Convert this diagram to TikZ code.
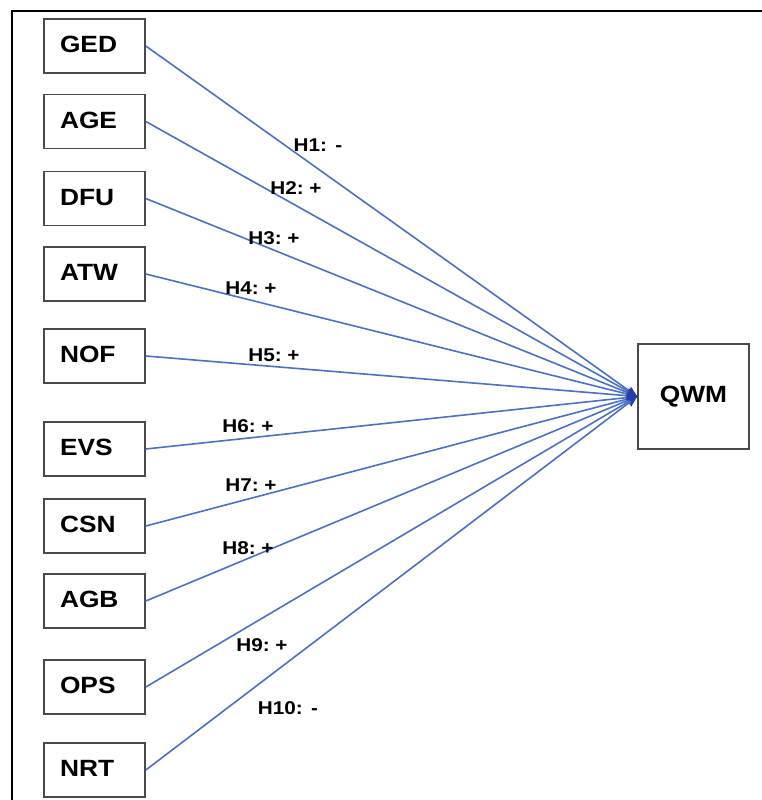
\documentclass[tikz,border=0pt]{standalone}
\usepackage{fontspec}
\setmainfont[FakeStretch=1.12]{Liberation Sans}
\usetikzlibrary{arrows.meta}
\definecolor{linkblue}{HTML}{4A72C0}
\definecolor{tipblue}{HTML}{2440A8}
\definecolor{boxgray}{HTML}{4A4A4A}
\newcommand{\upl}[1]{\raisebox{3pt}{#1}}
\tikzset{
  var/.style={draw=boxgray, line width=1.6pt, minimum width=101pt, minimum height=54pt,
    text width=69pt, inner xsep=16pt, align=left, font=\fontsize{23.5}{25}\selectfont\bfseries},
  outcome/.style={draw=boxgray, line width=1.6pt, minimum width=111pt, minimum height=105pt,
    font=\fontsize{23.5}{25}\selectfont\bfseries},
  link/.style={draw=linkblue, line width=1.6pt, -{Stealth[length=11pt,width=9pt,color=tipblue]}},
  hyp/.style={font=\fontsize{18.5}{20}\selectfont\bfseries, inner sep=1pt}
}
\begin{document}
\begin{tikzpicture}[x=1pt, y=-1pt]
\clip (0,0) rectangle (762,800);
\fill[white] (0,0) rectangle (762,800);
\draw[line width=2.2pt] (820,11) -- (12,11) -- (12,820);
\node[var] (ged) at (94.5,46) {\upl{GED}};
\node[var] (age) at (94.5,121.5) {\upl{AGE}};
\node[var] (dfu) at (94.5,198.5) {\upl{DFU}};
\node[var] (atw) at (94.5,274) {\upl{ATW}};
\node[var] (nof) at (94.5,356) {\upl{NOF}};
\node[var] (evs) at (94.5,449) {\upl{EVS}};
\node[var] (csn) at (94.5,526) {\upl{CSN}};
\node[var] (agb) at (94.5,601) {\upl{AGB}};
\node[var] (ops) at (94.5,687) {\upl{OPS}};
\node[var] (nrt) at (94.5,770) {\upl{NRT}};
\node[outcome] (qwm) at (693.5,396.5) {QWM};
\foreach \n in {ged,age,dfu,atw,nof,evs,csn,agb,ops,nrt}
  \draw[link] (\n.east) -- (qwm.west);
\node[hyp] (h1) at (318,145) {H1:\hspace{0.45em}-};
\node[hyp] (h2) at (296,188) {H2:\hspace{0.3em}+};
\node[hyp] (h3) at (274,238) {H3:\hspace{0.3em}+};
\node[hyp] (h4) at (251,288) {H4:\hspace{0.3em}+};
\node[hyp] (h5) at (274,355) {H5:\hspace{0.3em}+};
\node[hyp] (h6) at (248,426) {H6:\hspace{0.3em}+};
\node[hyp] (h7) at (251,485) {H7:\hspace{0.3em}+};
\node[hyp] (h8) at (248,548) {H8:\hspace{0.3em}+};
\node[hyp] (h9) at (262,645) {H9:\hspace{0.3em}+};
\node[hyp] (h10) at (288,708) {H10:\hspace{0.45em}-};
\end{tikzpicture}
\end{document}
